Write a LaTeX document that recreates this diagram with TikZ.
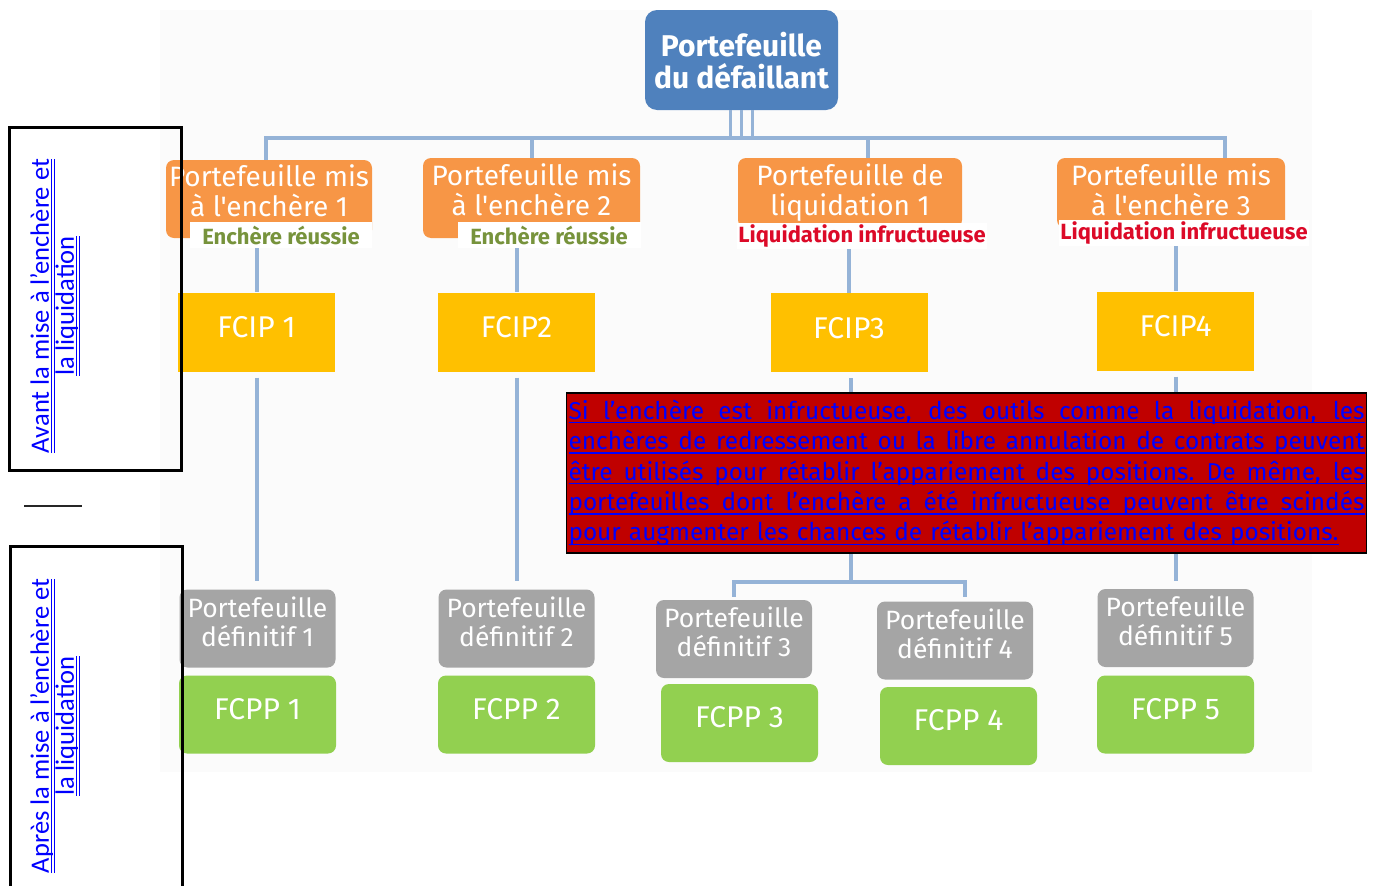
\documentclass[tikz,border=0pt]{standalone}
\usepackage{fontspec}
\setmainfont{Fira Sans}[Ligatures=TeXOff]
\newfontfamily\sidefont{Carlito}
\usetikzlibrary{positioning}

\definecolor{topblue}{HTML}{4F81BD}
\definecolor{linkblue}{HTML}{95B3D7}
\definecolor{auctorange}{HTML}{F79646}
\definecolor{fcipyellow}{HTML}{FFC000}
\definecolor{finalgray}{HTML}{A5A5A5}
\definecolor{fcppgreen}{HTML}{92D050}
\definecolor{okgreen}{HTML}{77933C}
\definecolor{kored}{HTML}{DC0A28}
\definecolor{notered}{HTML}{C00000}

% underlined lines of text
\newcommand\fullline[1]{\makebox[0pt][l]{\rule[-4pt]{\hsize}{1.3pt}}\hbox to \hsize{\spaceskip=0pt\relax#1}}
\newcommand\shortline[1]{\setbox0=\hbox{#1}\makebox[0pt][l]{\rule[-4pt]{\wd0}{1.3pt}}\box0}
\newcommand\dblline[1]{\setbox0=\hbox{#1}\makebox[0pt][l]{\rule[-3pt]{\wd0}{1pt}}\makebox[0pt][l]{\rule[-6pt]{\wd0}{1pt}}\box0}

\begin{document}
\begin{tikzpicture}[x=1pt,y=-1pt,
  topbox/.style={rectangle,fill=topblue,rounded corners=12pt,text=white,align=center,
    font=\fontsize{30}{32}\selectfont\bfseries,minimum width=193pt,minimum height=100pt,text depth=0pt},
  auct/.style={rectangle,fill=auctorange,rounded corners=8pt,text=white,align=center,
    font=\fontsize{28}{30}\selectfont,inner sep=0pt},
  okflag/.style={rectangle,fill=white,text=okgreen,inner sep=0pt,minimum height=26pt,
    font=\fontsize{22}{22}\selectfont\bfseries},
  koflag/.style={okflag,text=kored},
  fcip/.style={rectangle,fill=fcipyellow,text=white,font=\fontsize{30}{30}\selectfont,
    minimum width=157pt,minimum height=79pt,text depth=10pt},
  final/.style={rectangle,fill=finalgray,rounded corners=8pt,text=white,align=center,
    font=\fontsize{26.5}{29}\selectfont,minimum width=156pt,minimum height=78pt,inner sep=0pt,
    text depth=14pt},
  fcpp/.style={rectangle,fill=fcppgreen,rounded corners=8pt,text=white,
    font=\fontsize{30}{30}\selectfont,minimum width=157pt,minimum height=78pt,text depth=12pt},
  link/.style={draw=linkblue,line width=4pt},
  note/.style={rectangle,fill=notered,draw=black,line width=1.5pt,text=blue,align=left,
    font=\fontsize{24.4}{30.4}\selectfont,text width=796pt,inner xsep=2pt,inner ysep=3pt,
    minimum height=160pt},
  phasebox/.style={rectangle,draw=black,line width=3pt,minimum width=172pt},
  phasetext/.style={rotate=90,align=center,text=blue,font=\sidefont\fontsize{26.5}{25}\selectfont}
  ]
  \useasboundingbox (0,0) rectangle (1376,886);
  \fill[black!1.5] (160,10) rectangle (1312,772);

  % top of the tree
  \node[topbox] (top) at (741.5,60) {Portefeuille\\du défaillant};
  \coordinate (bus) at (741.5,138);

  % auctions and liquidation
  \node[auct,minimum width=206pt,minimum height=78pt,text depth=16pt] (a1) at (269,199) {Portefeuille mis\\à l'enchère 1};
  \node[auct,minimum width=217pt,minimum height=80pt,text depth=16pt] (a2) at (531.5,198) {Portefeuille mis\\à l'enchère 2};
  \node[auct,minimum width=224pt,minimum height=70pt,text depth=6pt] (a3) at (850,193) {Portefeuille de\\liquidation 1};
  \node[auct,minimum width=228pt,minimum height=70pt,text depth=6pt] (a4) at (1171,193) {Portefeuille mis\\à l'enchère 3};
  \node[okflag,minimum width=182pt] (ok1) at (281,235) {Enchère réussie};
  \node[okflag,minimum width=183pt] (ok2) at (549,235) {Enchère réussie};
  \node[koflag,minimum width=250pt] (ko1) at (862,236) {Liquidation infructueuse};
  \node[koflag,minimum width=250pt] (ko2) at (1184,233) {Liquidation infructueuse};

  % FCIP
  \node[fcip] (y1) at (256.5,332) {FCIP 1};
  \node[fcip] (y2) at (516.5,332) {FCIP2};
  \node[fcip] (y3) at (849,332.5) {FCIP3};
  \node[fcip] (y4) at (1175.5,331) {FCIP4};

  % final portfolios
  \node[final] (d1) at (257.5,628.5) {Portefeuille\\définitif 1};
  \node[final] (d2) at (516.5,628.5) {Portefeuille\\définitif 2};
  \node[final] (d3) at (734,639) {Portefeuille\\définitif 3};
  \node[final] (d4) at (955,640.5) {Portefeuille\\définitif 4};
  \node[final] (d5) at (1175.5,628) {Portefeuille\\définitif 5};

  % FCPP
  \node[fcpp] (g1) at (257.5,714.5) {FCPP 1};
  \node[fcpp] (g2) at (516.5,714.5) {FCPP 2};
  \node[fcpp] (g3) at (739.5,723) {FCPP 3};
  \node[fcpp] (g4) at (958.5,726) {FCPP 4};
  \node[fcpp] (g5) at (1175.5,714.5) {FCPP 5};

  % connectors
  \foreach \dx in {-11,0,11}
    \draw[link,line width=3pt] ([xshift=\dx pt]top.south) -- ([xshift=\dx pt]top.south |- bus);
  \draw[link] ([xshift=-3pt]a1.north) |- (bus) -| ([xshift=54pt]a4.north);
  \draw[link] (a2.north) -- (a2.north |- bus);
  \draw[link] ([xshift=18pt]a3.north) -- ([xshift=18pt]a3.north |- bus);
  \draw[link] (ok1.south -| y1.north) -- (y1.north);
  \draw[link] (ok2.south -| y2.north) -- (y2.north);
  \draw[link] (ko1.south -| y3.north) -- (y3.north);
  \draw[link] (ko2.south -| y4.north) -- (y4.north);
  \draw[link,shorten <=6pt,shorten >=8pt] (y1.south) -- (y1.south |- d1.north);
  \draw[link,shorten <=6pt,shorten >=8pt] (y2.south) -- (y2.south |- d2.north);
  \draw[link,shorten <=6pt,shorten >=8pt] (y4.south) -- (y4.south |- d5.north);
  \coordinate (fork) at (851,582);
  \draw[link,shorten <=6pt] (y3.south -| fork) -- (fork);
  \draw[link] ([yshift=3pt]d3.north) |- (fork) -| ([xshift=10pt,yshift=4pt]d4.north);

  % note on failed auctions
  \node[note] (note) at (966.5,473) {%
    \fullline{Si l’enchère est infructueuse, des outils comme la liquidation, les}\\
    \fullline{enchères de redressement ou la libre annulation de contrats peuvent}\\
    \fullline{être utilisés pour rétablir l’appariement des positions. De même, les}\\
    \fullline{portefeuilles dont l’enchère a été infructueuse peuvent être scindés}\\
    \shortline{pour augmenter les chances de rétablir l’appariement des positions.}};

  % phases
  \node[phasebox,minimum height=343pt] (before) at (95,298.5) {};
  \node[phasebox,minimum height=350pt] (after) at (96,721) {};
  \node[phasetext] (beforetext) at (55,306) {\dblline{Avant la mise à l’enchère et}\\\dblline{la liquidation}};
  \node[phasetext] (aftertext) at (55,726) {\dblline{Après la mise à l’enchère et}\\\dblline{la liquidation}};
  \coordinate (ruleL) at (24,506);
  \coordinate (ruleR) at (82,506);
  \draw[line width=2.5pt,black!85] (ruleL) -- (ruleR);
\end{tikzpicture}
\end{document}
